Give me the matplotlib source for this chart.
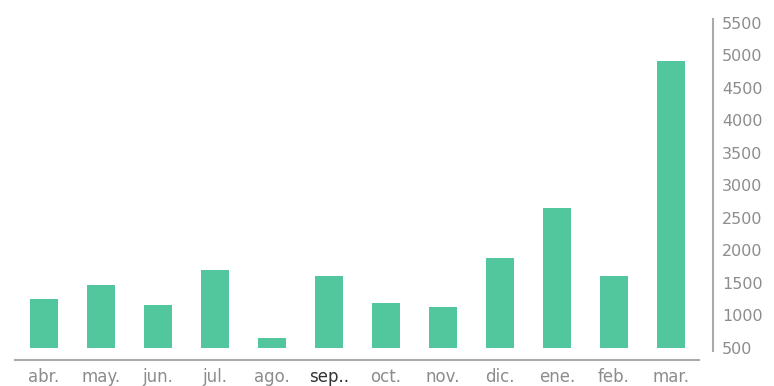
import matplotlib.pyplot as plt

months = ['abr.', 'may.', 'jun.', 'jul.', 'ago.', 'sep..', 'oct.', 'nov.', 'dic.', 'ene.', 'feb.', 'mar.']
values = [1250, 1460, 1150, 1700, 650, 1610, 1180, 1120, 1880, 2650, 1610, 4910]
yticks = list(range(500, 5501, 500))

bar_color = '#52c79e'
axis_color = '#aaaaaa'
label_color = '#8c8c8c'

fig = plt.figure(figsize=(7.74, 3.86), dpi=100)
ax = fig.add_axes([0.02, 0.0992, 0.8837, 0.8425])

x = range(len(months))
ax.bar(x, [v - 500 for v in values], bottom=500, width=0.49, color=bar_color)

ax.set_xlim(-0.5, len(months) - 0.5)
ax.set_ylim(500, 5500)

# axis on the right, both spines pushed out from the bars
for side in ['top', 'left']:
    ax.spines[side].set_visible(False)
ax.spines['right'].set_position(('outward', 9.7))
ax.spines['bottom'].set_position(('outward', 8.6))
for side in ['right', 'bottom']:
    ax.spines[side].set_color(axis_color)
    ax.spines[side].set_linewidth(1.5)
ax.spines['right'].set_bounds(450, 5550)

ax.yaxis.tick_right()
ax.set_yticks(yticks)
ax.set_yticklabels([str(t) for t in yticks])
ax.tick_params(axis='y', length=0, pad=6.5, labelsize=11.5, labelcolor=label_color)

ax.set_xticks(list(x))
ax.set_xticklabels(months)
ax.tick_params(axis='x', length=0, pad=6, labelsize=12, labelcolor=label_color)
ax.get_xticklabels()[5].set_color('#333333')

fig.savefig('out.png', dpi=100)
